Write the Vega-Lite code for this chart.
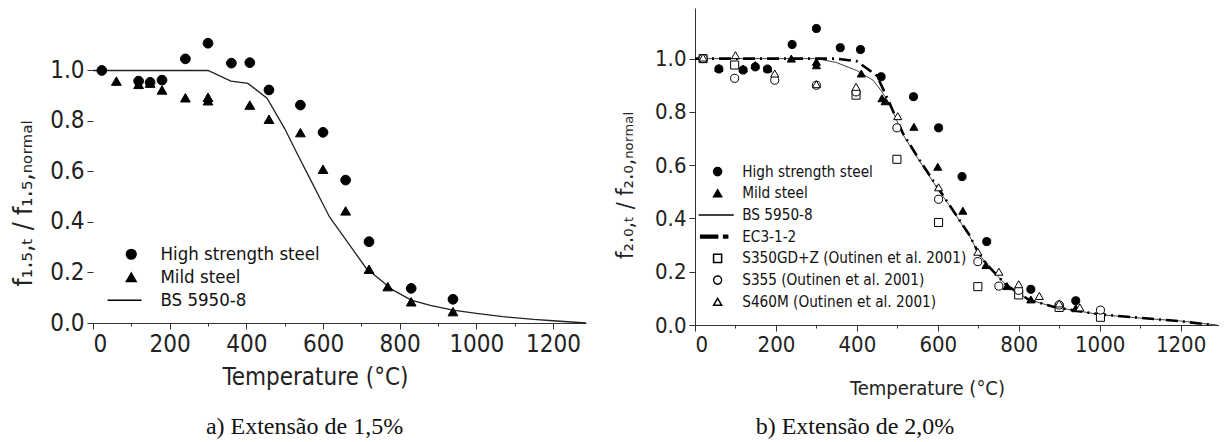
{
  "$schema": "https://vega.github.io/schema/vega-lite/v6.json",
  "background": "white",
  "padding": {"left": 10, "top": 8, "right": 0, "bottom": 2},
  "spacing": 109,
  "bounds": "flush",
  "config": {
    "view": {"stroke": null},
    "font": "DejaVu Sans Condensed",
    "axis": {
      "grid": false,
      "domainColor": "#333",
      "tickColor": "#333",
      "labelColor": "#222",
      "titleColor": "#222",
      "titleFontWeight": "normal",
      "labelFont": "DejaVu Sans Condensed",
      "titleFont": "DejaVu Sans Condensed"
    },
    "legend": {
      "labelFont": "DejaVu Sans Condensed",
      "labelColor": "#111",
      "labelLimit": 0
    },
    "title": {"font": "Liberation Serif", "fontWeight": "normal", "color": "#111"}
  },
  "datasets": {
    "pts15": [
      {"T": 23, "f": 1.0, "series": "High strength steel"},
      {"T": 119, "f": 0.958, "series": "High strength steel"},
      {"T": 149, "f": 0.953, "series": "High strength steel"},
      {"T": 180, "f": 0.962, "series": "High strength steel"},
      {"T": 241, "f": 1.046, "series": "High strength steel"},
      {"T": 300, "f": 1.108, "series": "High strength steel"},
      {"T": 361, "f": 1.029, "series": "High strength steel"},
      {"T": 409, "f": 1.031, "series": "High strength steel"},
      {"T": 459, "f": 0.923, "series": "High strength steel"},
      {"T": 541, "f": 0.863, "series": "High strength steel"},
      {"T": 600, "f": 0.755, "series": "High strength steel"},
      {"T": 659, "f": 0.566, "series": "High strength steel"},
      {"T": 720, "f": 0.322, "series": "High strength steel"},
      {"T": 830, "f": 0.137, "series": "High strength steel"},
      {"T": 939, "f": 0.094, "series": "High strength steel"},
      {"T": 61, "f": 0.958, "series": "Mild steel"},
      {"T": 119, "f": 0.945, "series": "Mild steel"},
      {"T": 149, "f": 0.95, "series": "Mild steel"},
      {"T": 180, "f": 0.923, "series": "Mild steel"},
      {"T": 241, "f": 0.892, "series": "Mild steel"},
      {"T": 300, "f": 0.894, "series": "Mild steel"},
      {"T": 300, "f": 0.88, "series": "Mild steel"},
      {"T": 409, "f": 0.863, "series": "Mild steel"},
      {"T": 459, "f": 0.807, "series": "Mild steel"},
      {"T": 541, "f": 0.754, "series": "Mild steel"},
      {"T": 600, "f": 0.609, "series": "Mild steel"},
      {"T": 659, "f": 0.444, "series": "Mild steel"},
      {"T": 720, "f": 0.213, "series": "Mild steel"},
      {"T": 769, "f": 0.144, "series": "Mild steel"},
      {"T": 830, "f": 0.084, "series": "Mild steel"},
      {"T": 939, "f": 0.045, "series": "Mild steel"}
    ],
    "line15": [
      {"T": 0, "f": 1.0}, {"T": 300, "f": 1.0}, {"T": 360, "f": 0.958}, {"T": 404, "f": 0.949},
      {"T": 454, "f": 0.89}, {"T": 500, "f": 0.77}, {"T": 532, "f": 0.672}, {"T": 570, "f": 0.56},
      {"T": 600, "f": 0.47}, {"T": 617, "f": 0.42}, {"T": 650, "f": 0.35}, {"T": 712, "f": 0.218},
      {"T": 750, "f": 0.17}, {"T": 782, "f": 0.131}, {"T": 830, "f": 0.091}, {"T": 880, "f": 0.07},
      {"T": 939, "f": 0.051}, {"T": 1000, "f": 0.038}, {"T": 1069, "f": 0.025}, {"T": 1150, "f": 0.014},
      {"T": 1200, "f": 0.009}, {"T": 1286, "f": 0.0}
    ],
    "pts20": [
      {"T": 59, "f": 0.961, "series": "High strength steel"},
      {"T": 119, "f": 0.957, "series": "High strength steel"},
      {"T": 149, "f": 0.969, "series": "High strength steel"},
      {"T": 179, "f": 0.961, "series": "High strength steel"},
      {"T": 240, "f": 1.053, "series": "High strength steel"},
      {"T": 300, "f": 1.113, "series": "High strength steel"},
      {"T": 359, "f": 1.041, "series": "High strength steel"},
      {"T": 409, "f": 1.034, "series": "High strength steel"},
      {"T": 460, "f": 0.932, "series": "High strength steel"},
      {"T": 540, "f": 0.857, "series": "High strength steel"},
      {"T": 602, "f": 0.74, "series": "High strength steel"},
      {"T": 660, "f": 0.557, "series": "High strength steel"},
      {"T": 721, "f": 0.313, "series": "High strength steel"},
      {"T": 830, "f": 0.134, "series": "High strength steel"},
      {"T": 941, "f": 0.091, "series": "High strength steel"},
      {"T": 59, "f": 0.965, "series": "Mild steel"},
      {"T": 119, "f": 0.963, "series": "Mild steel"},
      {"T": 149, "f": 0.976, "series": "Mild steel"},
      {"T": 180, "f": 0.963, "series": "Mild steel"},
      {"T": 238, "f": 1.0, "series": "Mild steel"},
      {"T": 300, "f": 0.988, "series": "Mild steel"},
      {"T": 300, "f": 0.975, "series": "Mild steel"},
      {"T": 411, "f": 0.944, "series": "Mild steel"},
      {"T": 462, "f": 0.851, "series": "Mild steel"},
      {"T": 470, "f": 0.84, "series": "Mild steel"},
      {"T": 541, "f": 0.744, "series": "Mild steel"},
      {"T": 600, "f": 0.594, "series": "Mild steel"},
      {"T": 662, "f": 0.429, "series": "Mild steel"},
      {"T": 719, "f": 0.225, "series": "Mild steel"},
      {"T": 771, "f": 0.146, "series": "Mild steel"},
      {"T": 830, "f": 0.096, "series": "Mild steel"},
      {"T": 941, "f": 0.063, "series": "Mild steel"},
      {"T": 20, "f": 1.0, "series": "S350GD+Z (Outinen et al. 2001)"},
      {"T": 98, "f": 0.976, "series": "S350GD+Z (Outinen et al. 2001)"},
      {"T": 398, "f": 0.863, "series": "S350GD+Z (Outinen et al. 2001)"},
      {"T": 499, "f": 0.622, "series": "S350GD+Z (Outinen et al. 2001)"},
      {"T": 602, "f": 0.385, "series": "S350GD+Z (Outinen et al. 2001)"},
      {"T": 699, "f": 0.144, "series": "S350GD+Z (Outinen et al. 2001)"},
      {"T": 800, "f": 0.113, "series": "S350GD+Z (Outinen et al. 2001)"},
      {"T": 900, "f": 0.066, "series": "S350GD+Z (Outinen et al. 2001)"},
      {"T": 1002, "f": 0.029, "series": "S350GD+Z (Outinen et al. 2001)"},
      {"T": 20, "f": 1.0, "series": "S355 (Outinen et al. 2001)"},
      {"T": 98, "f": 0.926, "series": "S355 (Outinen et al. 2001)"},
      {"T": 197, "f": 0.919, "series": "S355 (Outinen et al. 2001)"},
      {"T": 300, "f": 0.9, "series": "S355 (Outinen et al. 2001)"},
      {"T": 398, "f": 0.875, "series": "S355 (Outinen et al. 2001)"},
      {"T": 499, "f": 0.74, "series": "S355 (Outinen et al. 2001)"},
      {"T": 602, "f": 0.472, "series": "S355 (Outinen et al. 2001)"},
      {"T": 699, "f": 0.238, "series": "S355 (Outinen et al. 2001)"},
      {"T": 751, "f": 0.146, "series": "S355 (Outinen et al. 2001)"},
      {"T": 800, "f": 0.13, "series": "S355 (Outinen et al. 2001)"},
      {"T": 900, "f": 0.075, "series": "S355 (Outinen et al. 2001)"},
      {"T": 1002, "f": 0.056, "series": "S355 (Outinen et al. 2001)"},
      {"T": 20, "f": 1.004, "series": "S460M (Outinen et al. 2001)"},
      {"T": 100, "f": 1.013, "series": "S460M (Outinen et al. 2001)"},
      {"T": 197, "f": 0.944, "series": "S460M (Outinen et al. 2001)"},
      {"T": 300, "f": 0.904, "series": "S460M (Outinen et al. 2001)"},
      {"T": 398, "f": 0.894, "series": "S460M (Outinen et al. 2001)"},
      {"T": 501, "f": 0.784, "series": "S460M (Outinen et al. 2001)"},
      {"T": 602, "f": 0.517, "series": "S460M (Outinen et al. 2001)"},
      {"T": 699, "f": 0.275, "series": "S460M (Outinen et al. 2001)"},
      {"T": 751, "f": 0.2, "series": "S460M (Outinen et al. 2001)"},
      {"T": 800, "f": 0.153, "series": "S460M (Outinen et al. 2001)"},
      {"T": 851, "f": 0.109, "series": "S460M (Outinen et al. 2001)"},
      {"T": 900, "f": 0.081, "series": "S460M (Outinen et al. 2001)"},
      {"T": 951, "f": 0.066, "series": "S460M (Outinen et al. 2001)"}
    ],
    "ec20": [
      {"T": 0, "f": 1.0}, {"T": 350, "f": 1.0}, {"T": 400, "f": 0.99}, {"T": 450, "f": 0.935},
      {"T": 481, "f": 0.832}, {"T": 514, "f": 0.719}, {"T": 555, "f": 0.619}, {"T": 596, "f": 0.525},
      {"T": 637, "f": 0.432}, {"T": 678, "f": 0.338}, {"T": 699, "f": 0.275}, {"T": 719, "f": 0.231},
      {"T": 769, "f": 0.15}, {"T": 826, "f": 0.094}, {"T": 892, "f": 0.066}, {"T": 958, "f": 0.05},
      {"T": 1000, "f": 0.04}, {"T": 1100, "f": 0.027}, {"T": 1200, "f": 0.014}, {"T": 1280, "f": 0.0}
    ],
    "bs20": [
      {"T": 0, "f": 1.0}, {"T": 300, "f": 1.0}, {"T": 350, "f": 0.985}, {"T": 400, "f": 0.955},
      {"T": 440, "f": 0.919}, {"T": 460, "f": 0.88}, {"T": 481, "f": 0.83}, {"T": 514, "f": 0.715},
      {"T": 555, "f": 0.615}, {"T": 596, "f": 0.52}, {"T": 637, "f": 0.43}, {"T": 678, "f": 0.335},
      {"T": 699, "f": 0.275}, {"T": 719, "f": 0.23}, {"T": 769, "f": 0.15}, {"T": 826, "f": 0.094},
      {"T": 892, "f": 0.066}, {"T": 958, "f": 0.05}, {"T": 1000, "f": 0.039}, {"T": 1100, "f": 0.026},
      {"T": 1200, "f": 0.015}, {"T": 1290, "f": 0.0}
    ]
  },
  "resolve": {
    "scale": {"x": "independent", "y": "independent", "shape": "independent", "fill": "independent"},
    "legend": {"shape": "independent", "fill": "independent"}
  },
  "hconcat": [
    {
      "width": 493,
      "height": 315,
      "title": {"text": "a) Extensão de 1,5%", "orient": "bottom", "anchor": "middle", "dx": -35, "offset": 26, "fontSize": 24},
      "layer": [
        {
          "mark": {"type": "rule", "color": "#333", "strokeWidth": 1},
          "encoding": {
            "x": {"datum": 0, "type": "quantitative", "scale": {"domain": [0, 1286]}},
            "y": {"datum": 0, "type": "quantitative", "scale": {"domain": [0, 1.2475]}},
            "y2": {"datum": 1.188}
          }
        },
        {
          "data": {"name": "line15"},
          "mark": {"type": "line", "color": "#222", "strokeWidth": 1.3},
          "encoding": {
            "x": {"field": "T", "type": "quantitative", "scale": {"domain": [0, 1286]},
              "axis": {
                "values": [0, 100, 200, 300, 400, 500, 600, 700, 800, 900, 1000, 1100, 1200],
                "labelExpr": "datum.value % 200 == 0 ? format(datum.value, 'd') : ''",
                "tickSize": {"condition": {"test": "datum.value % 200 != 0", "value": 3}, "value": 6},
                "labelFontSize": 24, "labelPadding": 3,
                "title": "Temperature (°C)", "titleFontSize": 24,
                "titleX": 222, "titleY": 54, "titleBaseline": "middle", "titleAlign": "center"
              }},
            "y": {"field": "f", "type": "quantitative", "scale": {"domain": [0, 1.2475]},
              "axis": {
                "values": [0, 0.1, 0.2, 0.3, 0.4, 0.5, 0.6, 0.7, 0.8, 0.9, 1.0, 1.1],
                "labelExpr": "round(datum.value * 10) % 2 == 0 ? format(datum.value, '.1f') : ''",
                "tickSize": {"condition": {"test": "round(datum.value * 10) % 2 == 1", "value": 3}, "value": 6},
                "domain": false,
                "labelFontSize": 24, "labelPadding": 3,
                "title": "f₁.₅,ₜ / f₁.₅,ₙₒᵣₘₐₗ", "titleFontSize": 26,
                "titleX": -70, "titleY": 195, "titleBaseline": "middle", "titleAlign": "center", "titleAngle": -90
              }}
          }
        },
        {
          "data": {"name": "pts15"},
          "mark": {"type": "point", "stroke": "black", "strokeWidth": 1, "opacity": 1, "size": 95},
          "encoding": {
            "x": {"field": "T", "type": "quantitative", "scale": {"domain": [0, 1286]}},
            "y": {"field": "f", "type": "quantitative", "scale": {"domain": [0, 1.2475]}},
            "shape": {"field": "series", "type": "nominal",
              "scale": {"domain": ["High strength steel", "Mild steel", "BS 5950-8"], "range": ["circle", "triangle-up", "M-4.85,0H2.1"]},
              "legend": {"title": null, "orient": "none", "legendX": 29, "legendY": 237, "symbolSize": 95, "labelFontSize": 18.5, "labelOffset": 20, "rowPadding": 4, "padding": 0,
                "encode": {"symbols": {"update": {"stroke": {"value": "black"}, "strokeWidth": {"value": 1}, "opacity": {"value": 1}}}}}},
            "fill": {"field": "series", "type": "nominal",
              "scale": {"domain": ["High strength steel", "Mild steel", "BS 5950-8"], "range": ["black", "black", "black"]},
              "legend": {"title": null, "orient": "none", "legendX": 29, "legendY": 237, "symbolSize": 95, "labelFontSize": 18.5, "labelOffset": 20, "rowPadding": 4, "padding": 0,
                "encode": {"symbols": {"update": {"stroke": {"value": "black"}, "strokeWidth": {"value": 1}, "opacity": {"value": 1}}}}}}
          }
        }
      ]
    },
    {
      "width": 524,
      "height": 317,
      "title": {"text": "b) Extensão de 2,0%", "orient": "bottom", "anchor": "middle", "dx": -102, "offset": 17, "fontSize": 24},
      "layer": [
        {
          "data": {"name": "bs20"},
          "mark": {"type": "line", "color": "#444", "strokeWidth": 1},
          "encoding": {
            "x": {"field": "T", "type": "quantitative", "scale": {"domain": [0, 1295]},
              "axis": {
                "values": [0, 100, 200, 300, 400, 500, 600, 700, 800, 900, 1000, 1100, 1200],
                "labelExpr": "datum.value % 200 == 0 ? format(datum.value, 'd') : ''",
                "tickSize": {"condition": {"test": "datum.value % 200 != 0", "value": 3}, "value": 6},
                "labelFontSize": 22, "labelPadding": 3,
                "title": "Temperature (°C)", "titleFontSize": 20,
                "titleX": 232, "titleY": 63, "titleBaseline": "middle", "titleAlign": "center"
              }},
            "y": {"field": "f", "type": "quantitative", "scale": {"domain": [0, 1.19]},
              "axis": {
                "values": [0, 0.1, 0.2, 0.3, 0.4, 0.5, 0.6, 0.7, 0.8, 0.9, 1.0, 1.1],
                "labelExpr": "round(datum.value * 10) % 2 == 0 ? format(datum.value, '.1f') : ''",
                "tickSize": {"condition": {"test": "round(datum.value * 10) % 2 == 1", "value": 3}, "value": 6},
                "labelFontSize": 22, "labelPadding": 3,
                "title": "f₂.₀,ₜ / f₂.₀,ₙₒᵣₘₐₗ", "titleFontSize": 23,
                "titleX": -70, "titleY": 177, "titleBaseline": "middle", "titleAlign": "center", "titleAngle": -90
              }}
          }
        },
        {
          "data": {"name": "ec20"},
          "mark": {"type": "line", "color": "black", "strokeWidth": 2.6, "strokeDash": [12, 5, 2, 5]},
          "encoding": {
            "x": {"field": "T", "type": "quantitative", "scale": {"domain": [0, 1295]}},
            "y": {"field": "f", "type": "quantitative", "scale": {"domain": [0, 1.19]}}
          }
        },
        {
          "data": {"name": "pts20"},
          "mark": {"type": "point", "stroke": "black", "strokeWidth": 1, "opacity": 1, "size": 65},
          "encoding": {
            "x": {"field": "T", "type": "quantitative", "scale": {"domain": [0, 1295]}},
            "y": {"field": "f", "type": "quantitative", "scale": {"domain": [0, 1.19]}},
            "shape": {"field": "series", "type": "nominal",
              "scale": {"domain": ["High strength steel", "Mild steel", "BS 5950-8", "EC3-1-2", "S350GD+Z (Outinen et al. 2001)", "S355 (Outinen et al. 2001)", "S460M (Outinen et al. 2001)"],
                "range": ["circle", "triangle-up", "M-4.7,0H4", "M-4.2,-0.35H0V0.35H-4.2Z M1.5,-0.35H2.5V0.35H1.5Z", "square", "circle", "triangle-up"]},
              "legend": {"title": null, "orient": "none", "legendX": 15, "legendY": 156, "symbolSize": 65, "labelFontSize": 15.2, "labelOffset": 17, "rowPadding": 5.7, "padding": 0,
                "encode": {"symbols": {"update": {"stroke": {"value": "black"}, "strokeWidth": {"value": 1}, "opacity": {"value": 1}}}}}},
            "fill": {"field": "series", "type": "nominal",
              "scale": {"domain": ["High strength steel", "Mild steel", "BS 5950-8", "EC3-1-2", "S350GD+Z (Outinen et al. 2001)", "S355 (Outinen et al. 2001)", "S460M (Outinen et al. 2001)"],
                "range": ["black", "black", "black", "black", "white", "white", "white"]},
              "legend": {"title": null, "orient": "none", "legendX": 15, "legendY": 156, "symbolSize": 65, "labelFontSize": 15.2, "labelOffset": 17, "rowPadding": 5.7, "padding": 0,
                "encode": {"symbols": {"update": {"stroke": {"value": "black"}, "strokeWidth": {"value": 1}, "opacity": {"value": 1}}}}}}
          }
        }
      ]
    }
  ]
}
